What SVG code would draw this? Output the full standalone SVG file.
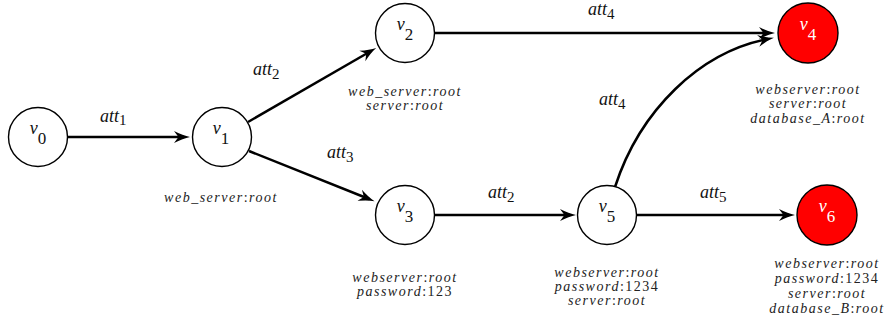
<svg xmlns="http://www.w3.org/2000/svg" width="888" height="324" viewBox="0 0 888 324">
<defs>
<style>
.node{fill:#fff;stroke:#000;stroke-width:1.4}
.red{fill:#f00;stroke:#000;stroke-width:1.4}
.edge{fill:none;stroke:#000;stroke-width:2.5;marker-end:url(#arr)}
text{font-family:'Liberation Serif','Times New Roman',Times,'DejaVu Serif',serif}
.nl{font-style:italic;font-size:18px;fill:#111;text-anchor:middle}
.nl .d{font-style:normal;font-size:17px}
.wl{fill:#fff}
.al{font-style:italic;font-size:18px;fill:#111}
.al .d{font-style:normal;font-size:15px}
.ann{font-style:italic;font-size:14px;letter-spacing:1.5px;fill:#222;text-anchor:middle}
.ann .u{font-style:normal}
</style>
<marker id="arr" markerUnits="userSpaceOnUse" markerWidth="18" markerHeight="14" refX="10" refY="6" orient="auto" overflow="visible">
<path d="M0,0 Q9,4.6 16,6 Q9,7.4 0,12 L4.5,6 Z" fill="#000"/>
</marker>
</defs>
<g id="edges">
<line class="edge" x1="68" y1="137" x2="184" y2="137"/>
<line class="edge" x1="248" y1="122" x2="371" y2="51"/>
<line class="edge" x1="249" y1="151" x2="369" y2="199"/>
<line class="edge" x1="435" y1="33" x2="769" y2="33"/>
<line class="edge" x1="435" y1="215" x2="570" y2="215"/>
<line class="edge" x1="637" y1="215" x2="789" y2="215"/>
<path class="edge" d="M615,187 C640,110 700,52 768,39"/>
<text class="al" x="100" y="122">att<tspan class="d" dy="3">1</tspan></text>
<text class="al" x="253" y="75">att<tspan class="d" dy="4">2</tspan></text>
<text class="al" x="327" y="158">att<tspan class="d" dy="4">3</tspan></text>
<text class="al" x="588" y="15">att<tspan class="d" dy="4">4</tspan></text>
<text class="al" x="599" y="105">att<tspan class="d" dy="4">4</tspan></text>
<text class="al" x="488" y="198">att<tspan class="d" dy="4">2</tspan></text>
<text class="al" x="700" y="198">att<tspan class="d" dy="4">5</tspan></text>
</g>
<g id="v0">
<circle class="node" cx="38" cy="137" r="29.5"/>
<text class="nl" x="38" y="134">v<tspan class="d" dy="10">0</tspan></text>
</g>
<g id="v1">
<circle class="node" cx="222" cy="137" r="29.5"/>
<text class="nl" x="221" y="134">v<tspan class="d" dy="10">1</tspan></text>
<text class="ann" x="221" y="202">web_server<tspan class="u">:</tspan>root</text>
</g>
<g id="v2">
<circle class="node" cx="405" cy="33" r="29.5"/>
<text class="nl" x="405" y="30">v<tspan class="d" dy="10">2</tspan></text>
<text class="ann" x="405" y="96">web_server<tspan class="u">:</tspan>root</text>
<text class="ann" x="405" y="110">server<tspan class="u">:</tspan>root</text>
</g>
<g id="v3">
<circle class="node" cx="405" cy="215" r="29.5"/>
<text class="nl" x="405" y="212">v<tspan class="d" dy="10">3</tspan></text>
<text class="ann" x="405" y="282">webserver<tspan class="u">:</tspan>root</text>
<text class="ann" x="405" y="296">password<tspan class="u">:123</tspan></text>
</g>
<g id="v4">
<circle class="red" cx="808" cy="33" r="30"/>
<text class="nl wl" x="808" y="30">v<tspan class="d" dy="10">4</tspan></text>
<text class="ann" x="808" y="94">webserver<tspan class="u">:</tspan>root</text>
<text class="ann" x="808" y="108">server<tspan class="u">:</tspan>root</text>
<text class="ann" x="808" y="123">database_A<tspan class="u">:</tspan>root</text>
</g>
<g id="v5">
<circle class="node" cx="607" cy="215" r="29.5"/>
<text class="nl" x="607" y="212">v<tspan class="d" dy="10">5</tspan></text>
<text class="ann" x="607" y="277">webserver<tspan class="u">:</tspan>root</text>
<text class="ann" x="607" y="291">password<tspan class="u">:1234</tspan></text>
<text class="ann" x="607" y="305">server<tspan class="u">:</tspan>root</text>
</g>
<g id="v6">
<circle class="red" cx="827" cy="215" r="30"/>
<text class="nl wl" x="827" y="212">v<tspan class="d" dy="10">6</tspan></text>
<text class="ann" x="827" y="268">webserver<tspan class="u">:</tspan>root</text>
<text class="ann" x="827" y="283">password<tspan class="u">:1234</tspan></text>
<text class="ann" x="827" y="298">server<tspan class="u">:</tspan>root</text>
<text class="ann" x="827" y="313">database_B<tspan class="u">:</tspan>root</text>
</g>
</svg>
